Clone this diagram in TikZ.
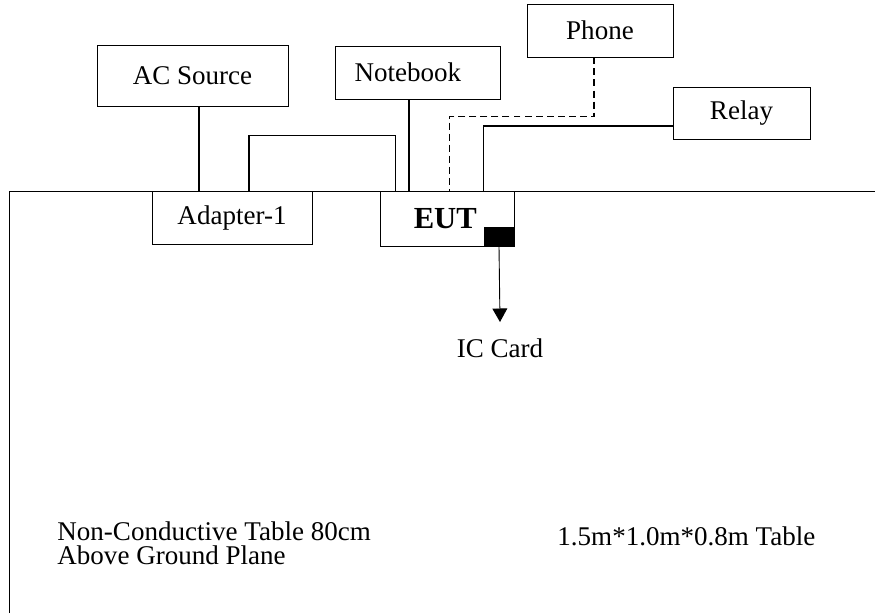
\documentclass[tikz,border=0pt]{standalone}
\usepackage{fontspec}
\setmainfont{Liberation Serif}
\usetikzlibrary{arrows.meta,positioning}
\tikzset{>={Triangle[length=6pt,width=6.6pt]},line width=.8pt,
  every node/.style={font=\fontsize{12}{14}\selectfont},
  unit/.style={draw,fill=white,inner sep=0pt},
  cable/.style={draw,line width=.8pt},
  phoneline/.style={cable,dash pattern=on 3.1pt off 1.8pt},
  port/.style={fill=black,inner sep=0pt,minimum width=13.3pt,minimum height=8.4pt},
  note/.style={inner sep=0pt,align=left}}
\begin{document}
\begin{tikzpicture}[x=.444pt,y=-.444pt]
\useasboundingbox(0,0)rectangle(875,613);
% table top and left edge
\draw(9,613)--(9,191)--(875,191);
\node[unit,minimum width=84.8pt,minimum height=27.1pt](ac)at(192.5,75.5){AC Source};
\node[unit,minimum width=73.3pt,minimum height=23.5pt](nb)at(418,72.5){Notebook\hspace*{9pt}};
\node[unit,minimum width=64.8pt,minimum height=23.5pt](phone)at(600,30.5){Phone};
\node[unit,minimum width=60.8pt,minimum height=23.1pt](relay)at(741.5,113){Relay};
\node[unit,minimum width=71pt,minimum height=23.5pt](adapter)at(232,217.5){Adapter-1};
\node[unit,minimum width=59.1pt,minimum height=24.4pt,font=\fontsize{13.6}{16}\bfseries](eut)at(447.5,218.5){EUT\hspace*{2pt}};
\node[port](icport)at(499,236.5){};
% cables between units
\draw[cable]([xshift=2.9pt]ac.south)--([xshift=2.9pt]ac.south|-adapter.north);
\draw[cable]([xshift=7.5pt]adapter.north)--++(0,-55)-|([xshift=6.7pt]eut.north west);
\draw[cable]([xshift=-4pt]nb.south)--([xshift=-4pt]nb.south|-eut.north);
\draw[phoneline]([xshift=-2.7pt]phone.south)--++(0,59)-|([xshift=30.6pt]eut.north west);
\draw[cable]([yshift=-5.8pt]relay.west)-|(icport.west|-eut.north);
% card slot
\coordinate(cardtip)at(500,322);
\draw[->](icport.south)--(cardtip);
\node[inner sep=0pt,anchor=base](card)at(500,357){IC Card};
\node[note,anchor=north west,font=\fontsize{12}{10.7}\selectfont](tabletext)at(57,521.5){Non-Conductive Table 80cm\\Above Ground Plane};
\node[note,anchor=base west](tablesize)at(557,545){1.5m*1.0m*0.8m Table};
\end{tikzpicture}
\end{document}
